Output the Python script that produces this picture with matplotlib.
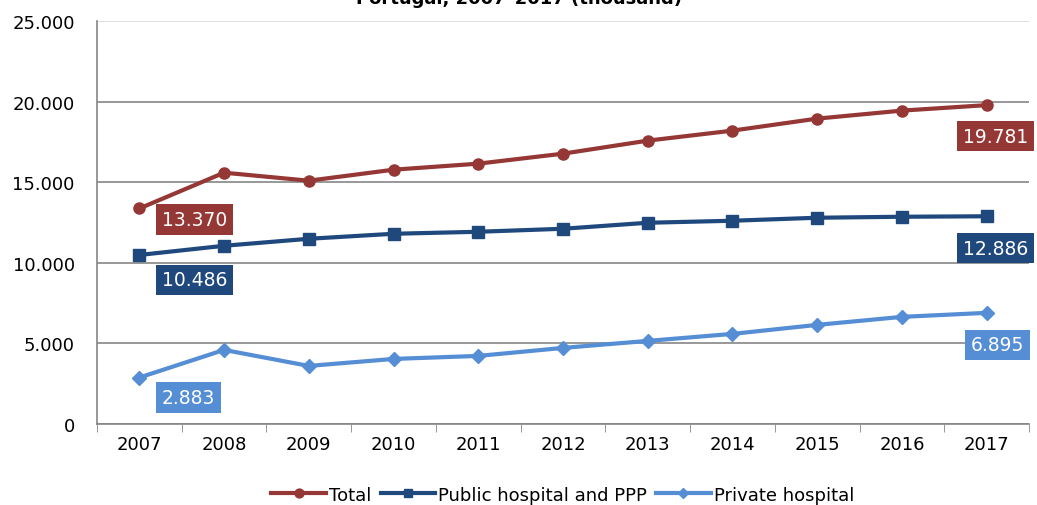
import matplotlib
matplotlib.use("Agg")
import matplotlib.pyplot as plt
import numpy as np

years = ["2007", "2008", "2009", "2010", "2011", "2012", "2013", "2014", "2015", "2016", "2017"]
total = [13370, 15590, 15093, 15776, 16150, 16770, 17578, 18199, 18944, 19441, 19781]
public = [10486, 11056, 11491, 11801, 11925, 12112, 12484, 12609, 12795, 12857, 12886]
private = [2883, 4596, 3602, 4037, 4224, 4720, 5155, 5590, 6149, 6646, 6895]

c_total = "#953735"
c_public = "#1F497D"
c_private = "#558ED5"

def fmt(v):
    return "{:,}".format(v).replace(",", ".")

fig = plt.figure(figsize=(10.37, 5.06), dpi=100)
ax = fig.add_axes([97 / 1037, 1 - 425 / 506, (1029 - 97) / 1037, (425 - 22) / 506])

x = np.arange(len(years))
ax.plot(x, total, color=c_total, lw=3, marker="o", ms=8, label="Total", zorder=4)
ax.plot(x, public, color=c_public, lw=3, marker="s", ms=8, label="Public hospital and PPP", zorder=4)
ax.plot(x, private, color=c_private, lw=3, marker="D", ms=7, label="Private hospital", zorder=4)

ax.set_xlim(-0.5, len(years) - 0.5)
ax.set_ylim(0, 25000)
ax.set_yticks(np.arange(0, 25001, 5000))
ax.set_yticklabels([fmt(v) for v in range(0, 25001, 5000)])
ax.set_xticks(x)
ax.set_xticklabels(years)
ax.set_xticks(np.arange(-0.5, len(years), 1), minor=True)
ax.tick_params(axis="x", which="major", length=0, pad=8, labelsize=13)
ax.tick_params(axis="x", which="minor", length=6, color="#868686", direction="out")
ax.tick_params(axis="y", length=0, pad=16, labelsize=13)
ax.grid(axis="y", color="#868686", lw=1.2)
ax.get_ygridlines()[-1].set_color("#D9D9D9")
ax.set_axisbelow(True)
for s in ["top", "right"]:
    ax.spines[s].set_visible(False)
for s in ["left", "bottom"]:
    ax.spines[s].set_color("#868686")
    ax.spines[s].set_linewidth(1.2)

def label(xi, yi, text, color, dx, dy):
    ax.annotate(text, (xi, yi), xytext=(dx, dy), textcoords="offset pixels",
                ha="center", va="center", color="white", fontsize=13.5,
                bbox=dict(boxstyle="square,pad=0.3", fc=color, ec="none"), zorder=5)

label(0, total[0], fmt(total[0]), c_total, 55, -11)
label(10, total[-1], fmt(total[-1]), c_total, 9, -31)
label(0, public[0], fmt(public[0]), c_public, 55, -25)
label(10, public[-1], fmt(public[-1]), c_public, 9, -32)
label(0, private[0], fmt(private[0]), c_private, 49, -20)
label(10, private[-1], fmt(private[-1]), c_private, 11, -32)

ax.legend(loc="center", bbox_to_anchor=(0.5, -0.175), ncol=3, frameon=False,
          fontsize=13, handlelength=3.0, handletextpad=0.2, columnspacing=0.5,
          markerscale=0.8)

fig.text(0.5, 1 - 4 / 506, "Portugal, 2007–2017 (thousand)", ha="center", va="baseline",
         fontsize=13, fontweight="bold")

fig.savefig("out.png", dpi=100)
